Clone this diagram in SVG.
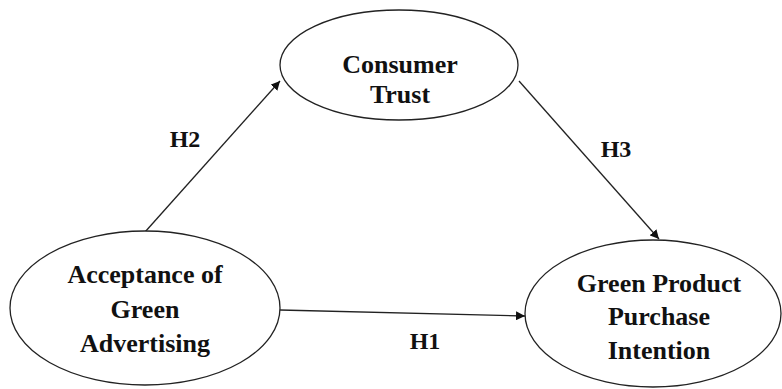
<svg xmlns="http://www.w3.org/2000/svg" width="782" height="389" viewBox="0 0 782 389">
<defs>
<style>
.node ellipse{fill:#fff;stroke:#222;stroke-width:1.3}
text{font-family:"Liberation Serif","Times New Roman",serif;font-weight:bold;fill:#111;text-anchor:middle}
.n{font-size:26px}
.lbl{font-size:24px}
.edge{stroke:#222;stroke-width:1.3;fill:none;marker-end:url(#arr)}
</style>
<marker id="arr" viewBox="0 0 10 10" refX="10" refY="5" markerWidth="9" markerHeight="9" markerUnits="userSpaceOnUse" orient="auto">
<path d="M0,0 L10,5 L0,10 z" fill="#111"/>
</marker>
</defs>
<rect width="782" height="389" fill="#fff"/>
<g id="connectors">
<line class="edge" x1="145" y1="232" x2="280" y2="81"/>
<line class="edge" x1="519" y1="81" x2="659" y2="239"/>
<line class="edge" x1="280" y1="310" x2="525" y2="316"/>
</g>
<g id="consumer-trust" class="node">
<ellipse cx="399" cy="65" rx="119" ry="55"/>
<text class="n" x="400" y="73">Consumer</text>
<text class="n" x="400" y="103">Trust</text>
</g>
<g id="acceptance" class="node">
<ellipse cx="145" cy="308" rx="135" ry="77"/>
<text class="n" x="145" y="283">Acceptance of</text>
<text class="n" x="145" y="318">Green</text>
<text class="n" x="145" y="352">Advertising</text>
</g>
<g id="purchase-intention" class="node">
<ellipse cx="653" cy="313.5" rx="128" ry="73.5"/>
<text class="n" x="659" y="292">Green Product</text>
<text class="n" x="659" y="325">Purchase</text>
<text class="n" x="659" y="359">Intention</text>
</g>
<g id="labels">
<text class="lbl" x="185" y="147">H2</text>
<text class="lbl" x="616" y="157">H3</text>
<text class="lbl" x="425" y="349">H1</text>
</g>
</svg>
